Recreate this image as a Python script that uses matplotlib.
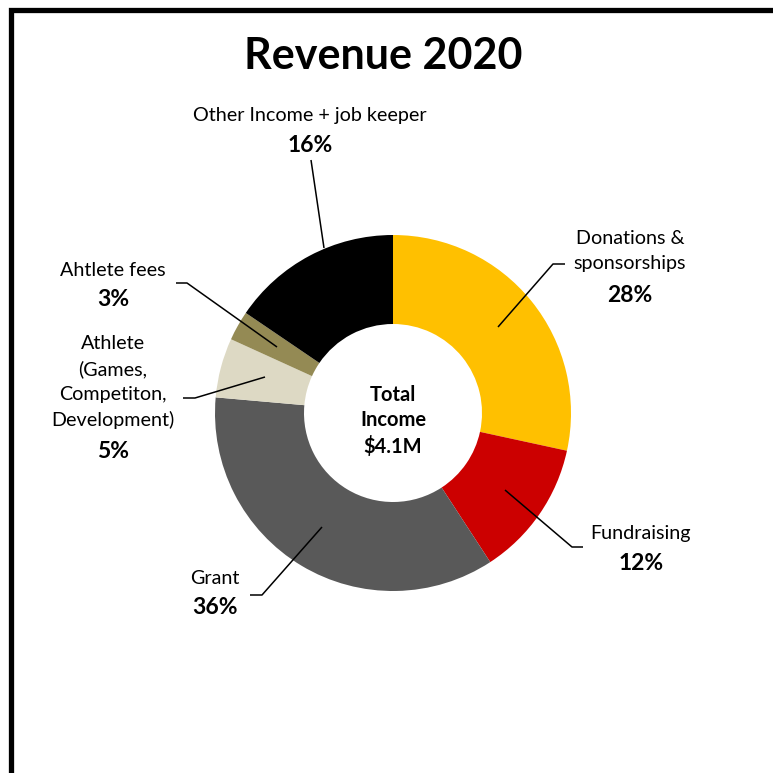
import matplotlib
matplotlib.use("Agg")
import matplotlib.pyplot as plt
from matplotlib.patches import Rectangle

plt.rcParams['font.family'] = ['Lato', 'DejaVu Sans']

categories = ["Donations &\nsponsorships", "Fundraising", "Grant",
              "Athlete\n(Games,\nCompetiton,\nDevelopment)", "Ahtlete fees",
              "Other Income + job keeper"]
# shares (labels show rounded values)
values = [28.4, 12.4, 35.6, 5.4, 2.7, 15.5]
pct_labels = ["28%", "12%", "36%", "5%", "3%", "16%"]
colors = ["#FFC000", "#CC0000", "#595959", "#DDD9C4", "#948A54", "#000000"]
title = "Revenue 2020"
center_text = "Total\nIncome\n$4.1M"

W = H = 773
fig = plt.figure(figsize=(7.73, 7.73), dpi=100)
ax = fig.add_axes([0, 0, 1, 1])

def Y(y):
    return H - y

cx, cy, R = 393, 413, 178
ax.pie(values, colors=colors, startangle=90, counterclock=False,
       radius=R, center=(cx, Y(cy)),
       wedgeprops=dict(width=R * 0.5, linewidth=0))
ax.set_xlim(0, W)
ax.set_ylim(0, H)
ax.set_aspect("equal")
ax.axis("off")

# frame
fig.patches.append(Rectangle((10.5 / W, -0.1), 1.2, 1 - 10.5 / H + 0.1,
                             transform=fig.transFigure, fill=False,
                             edgecolor="black", linewidth=3.8, zorder=0))

ax.text(383, Y(56), title, ha="center", va="center", fontsize=31,
        fontweight="bold")

name_fs = 14.2
pct_fs = 16.5

# (name center x, name center y, pct y)
label_pos = [
    (630, 251, 295),
    (641, 533, 563),
    (215, 578, 608),
    (113, 382, 452),
    (113, 270, 300),
    (310, 115, 145),
]
for cat, pl, (lx, ly, py) in zip(categories, pct_labels, label_pos):
    ax.text(lx, Y(ly), cat, ha="center", va="center", fontsize=name_fs,
            linespacing=1.55)
    ax.text(lx, Y(py), pl, ha="center", va="center", fontsize=pct_fs,
            fontweight="bold")

leaders = [
    [(498, 327), (553, 264), (565, 264)],
    [(505, 490), (572, 547), (583, 547)],
    [(322, 527), (262, 595), (250, 595)],
    [(265, 377), (195, 398), (183, 398)],
    [(277, 347), (187, 283), (176, 283)],
    [(324, 248), (311, 160)],
]
for pts in leaders:
    xs = [p[0] for p in pts]
    ys = [Y(p[1]) for p in pts]
    ax.plot(xs, ys, color="black", linewidth=1.1, solid_capstyle="butt")

ax.text(cx, Y(421), center_text, ha="center", va="center", fontsize=14.5,
        fontweight="bold", linespacing=1.35)

fig.savefig("out.png", dpi=100)
